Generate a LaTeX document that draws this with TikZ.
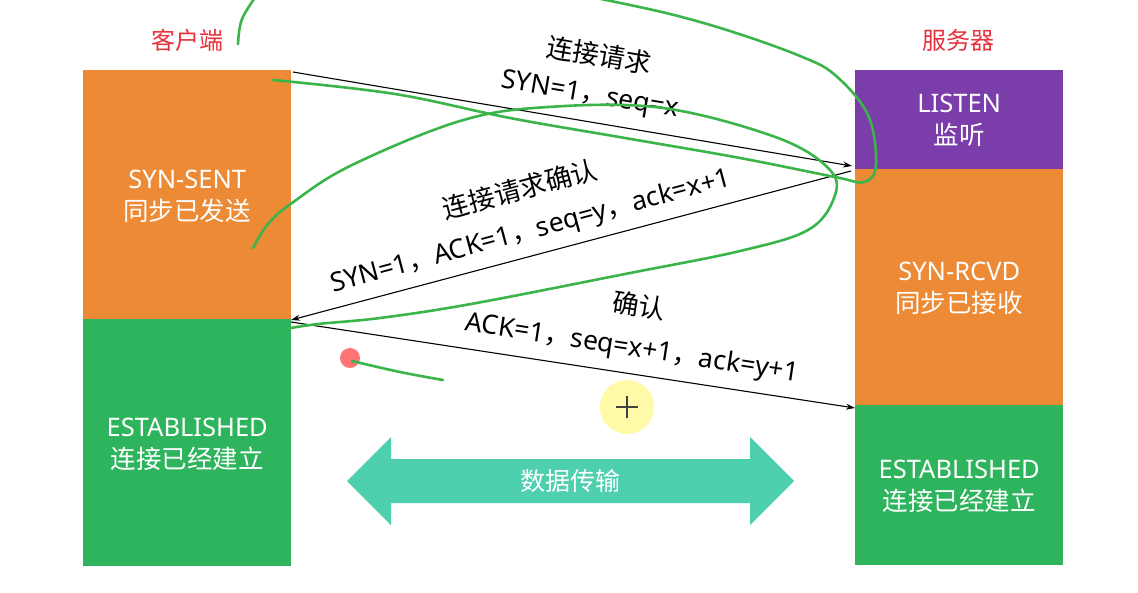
\documentclass[tikz,border=0pt]{standalone}
\usepackage{fontspec}
\setmainfont{Noto Sans}
\newfontfamily\cjk{Noto Sans CJK SC}
\newcommand\zh[1]{{\cjk #1}}
\usetikzlibrary{arrows.meta}
\definecolor{corange}{HTML}{EC8A35}
\definecolor{cpurple}{HTML}{7B3DAA}
\definecolor{cgreen}{HTML}{2DB45C}
\definecolor{cteal}{HTML}{4ED0AF}
\definecolor{cred}{HTML}{E5323C}
\definecolor{pen}{HTML}{3BB54A}
\tikzset{
  statebox/.style={draw=none, anchor=north west, inner sep=0pt, text=white, align=center,
    font=\fontsize{25.5}{32}\selectfont},
  sidetitle/.style={text=cred, font=\fontsize{24}{28}\selectfont\cjk},
  msg/.style={draw=black, line width=1.1pt, -{Stealth[length=9pt,width=6pt]}},
  lbl/.style={font=\fontsize{26.5}{30}\selectfont, inner sep=0pt},
  scribble/.style={draw=pen, line width=2.6pt, line cap=round, line join=round},
}
\begin{document}
\begin{tikzpicture}[x=1pt,y=-1pt]
\useasboundingbox (0,0) rectangle (1138,592);
\fill[white] (0,0) rectangle (1138,592);
\begin{scope}
\clip (0,0) rectangle (1138,592);
% titles
\node[sidetitle] (tclient) at (187,40) {客户端};
\node[sidetitle] (tserver) at (958,40) {服务器};
% client column
\node[statebox, fill=corange, minimum width=208pt, minimum height=249pt] (csent) at (83,70) {};
\node[statebox, fill=cgreen, minimum width=208pt, minimum height=247pt] (cest) at (83,319) {};
\node[statebox] (csenttxt) at ([yshift=-2pt]csent.center) [anchor=center] {SYN-SENT\\\zh{同步已发送}};
\node[statebox] (cesttxt) at ([yshift=-2pt]cest.center) [anchor=center] {ESTABLISHED\\\zh{连接已经建立}};
% server column
\node[statebox, fill=cpurple, minimum width=208pt, minimum height=99pt] (slisten) at (855,70) {};
\node[statebox, fill=corange, minimum width=208pt, minimum height=236pt] (srcvd) at (855,169) {};
\node[statebox, fill=cgreen, minimum width=208pt, minimum height=160pt] (sest) at (855,405) {};
\node[statebox] (slistentxt) at ([yshift=-1pt]slisten.center) [anchor=center] {LISTEN\\\zh{监听}};
\node[statebox] (srcvdtxt) at ([yshift=-1pt]srcvd.center) [anchor=center] {SYN-RCVD\\\zh{同步已接收}};
\node[statebox] (sesttxt) at ([yshift=-1pt]sest.center) [anchor=center] {ESTABLISHED\\\zh{连接已经建立}};
% message endpoints
\coordinate (a1s) at (293,72);
\coordinate (a1e) at (852,166);
\coordinate (a2s) at (851,171);
\coordinate (a2e) at (291,320);
\coordinate (a3s) at (291,322);
\coordinate (a3e) at (855,408);
\draw[msg] (a1s) -- (a1e);
\draw[msg] (a2s) -- (a2e);
\draw[msg] (a3s) -- (a3e);
% labels
\node[lbl, rotate=-9.6] (l1a) at (599,55) {\zh{连接请求}};
\node[lbl, rotate=-9.6] (l1b) at (590,96) {SYN=1\zh{，}seq=x};
\node[lbl, rotate=15] (l2a) at (520,189) {\zh{连接请求确认}};
\node[lbl, rotate=15] (l2b) at (531,232) {SYN=1\zh{，}ACK=1\zh{，}seq=y\zh{，}ack=x+1};
\node[lbl, rotate=-8.7] (l3a) at (639,306) {\zh{确认}};
\node[lbl, rotate=-8.7] (l3b) at (632,349) {ACK=1\zh{，}seq=x+1\zh{，}ack=y+1};
% data transfer double arrow
\fill[cteal] (347,481) -- (391,437) -- (391,459) -- (750,459) -- (750,437) -- (794,481)
  -- (750,525) -- (750,503) -- (391,503) -- (391,525) -- cycle;
\node[lbl, text=white, font=\fontsize{25}{30}\selectfont] (data) at (570,481) {\zh{数据传输}};
% cursor highlight
\fill[yellow!40, opacity=0.85] (627,407) circle (27);
\node[inner sep=0pt, minimum size=0pt] (cursor) at (627,407) {};
\draw[black!75, line width=1.4pt] ([xshift=-11pt]cursor.center) -- ([xshift=11pt]cursor.center);
\draw[black!75, line width=1.4pt] ([yshift=-11pt]cursor.center) -- ([yshift=11pt]cursor.center);
% red dot
\fill[red!60!white, opacity=0.9] (350,358) circle (10);
% green scribbles
\draw[scribble] plot[smooth, tension=0.7] coordinates {(238,44) (241,22) (250,5) (258,-6)};
\draw[scribble] plot[smooth, tension=0.6] coordinates {(273,80) (395,94) (510,118) (625,138) (740,158) (835,177) (864,182) (876,165) (868,115) (835,75) (800,56) (733,32) (666,13) (586,-4)};
\draw[scribble] plot[smooth, tension=0.6] coordinates {(253,248) (268,224) (292,203) (350,166) (460,121) (548,107) (663,108) (778,138) (830,170) (834,198) (808,230) (740,251) (625,274) (471,304) (380,318) (318,324) (285,329)};
\draw[scribble] plot[smooth, tension=0.6] coordinates {(352,361) (400,372) (443,380)};
\end{scope}
\end{tikzpicture}
\end{document}
